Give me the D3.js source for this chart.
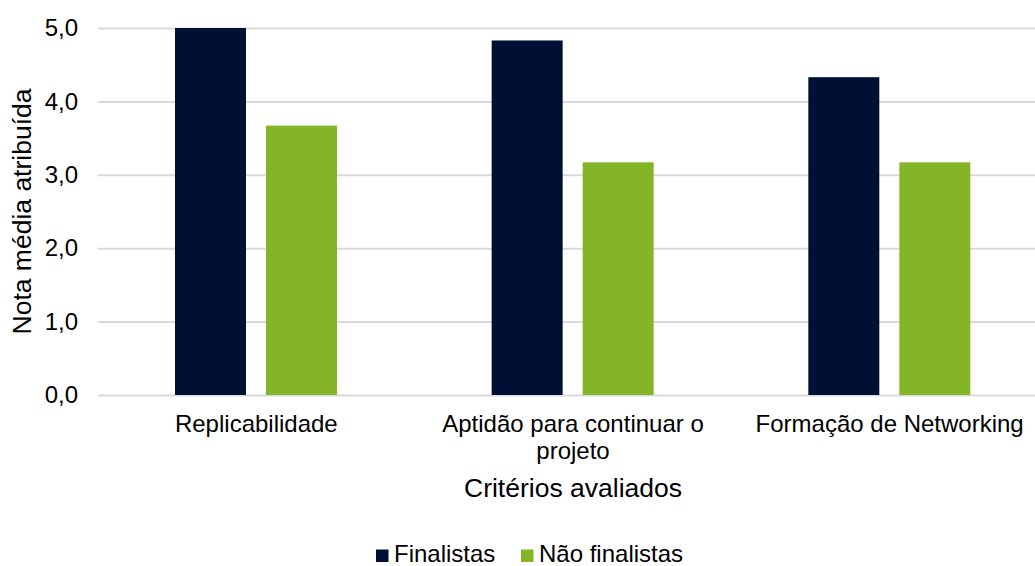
<!DOCTYPE html>
<html><head><meta charset="utf-8">
<script src="https://cdn.jsdelivr.net/npm/d3@7"></script>
<style>body{margin:0;background:#fff}svg{display:block;font-family:"Liberation Sans",Arial,sans-serif}</style>
</head><body><svg id="c" width="1035" height="566"></svg>
<script>
const categories = ["Replicabilidade", "Aptidão para continuar o projeto", "Formação de Networking"];
const seriesNames = ["Finalistas", "Não finalistas"];
const finalistas = [5.0, 4.83, 4.33];
const naoFinalistas = [3.67, 3.17, 3.17];
const yTicks = [0, 1, 2, 3, 4, 5];
const colors = ["#001035", "#84b527"];

(function () {
const FONT = "'Liberation Sans', Arial, sans-serif";
const svg = d3.select("#c");
const pLeft = 98, pRight = 1048, pTop = 28, pBottom = 395;
const seriesVals = [finalistas, naoFinalistas];

const x0 = d3.scaleBand().domain(categories).range([pLeft, pRight]).padding(0);
const x1 = d3.scaleBand().domain(seriesNames).range([77, 239]).paddingInner(0.22).paddingOuter(0);
const y = d3.scaleLinear().domain([0, 5]).range([pBottom, pTop]);

const yAxis = d3.axisLeft(y).tickValues(yTicks).tickSize(-(pRight - pLeft)).tickPadding(20)
  .tickFormat(d => d3.format(".1f")(d).replace(".", ","));
const gy = svg.append("g").attr("transform", `translate(${pLeft},0)`).call(yAxis);
gy.select(".domain").remove();
gy.selectAll(".tick line").attr("stroke", "#d9d9d9").attr("stroke-width", 2);
gy.selectAll(".tick text").attr("font-size", 24).attr("fill", "#000").attr("font-family", FONT);

const g = svg.append("g");
categories.forEach((c, i) => {
  seriesNames.forEach((s, j) => {
    g.append("rect")
      .attr("x", x0(c) + x1(s))
      .attr("y", y(seriesVals[j][i]))
      .attr("width", x1.bandwidth())
      .attr("height", y(0) - y(seriesVals[j][i]))
      .attr("fill", colors[j]);
  });
});

const xAxis = d3.axisBottom(x0).tickSize(0).tickPadding(0);
const gx = svg.append("g").attr("transform", `translate(0,${pBottom})`).call(xAxis);
gx.select(".domain").remove();
gx.selectAll(".tick text").remove();
gx.selectAll(".tick").each(function(d) {
  const t = d3.select(this).append("text").attr("text-anchor", "middle")
    .attr("font-size", 24).attr("fill", "#000").attr("font-family", FONT);
  const words = d.split(" ");
  const lines = [];
  let line = [];
  const tmp = t.append("tspan");
  words.forEach(w => {
    line.push(w);
    tmp.text(line.join(" "));
    if (tmp.node().getComputedTextLength() > 300 && line.length > 1) {
      line.pop(); lines.push(line.join(" ")); line = [w];
    }
  });
  lines.push(line.join(" "));
  tmp.remove();
  lines.forEach((l, k) => t.append("tspan").attr("x", 0).attr("y", 37 + k * 27).text(l));
});

svg.append("text").attr("x", 573).attr("y", 497).attr("font-family", FONT)
  .attr("text-anchor", "middle").attr("font-size", 26.5).text("Critérios avaliados");
svg.append("text").attr("transform", `translate(31,211.5) rotate(-90)`).attr("font-family", FONT)
  .attr("text-anchor", "middle").attr("font-size", 26.5).text("Nota média atribuída");

const legX = [376, 521];
const lg = svg.append("g");
seriesNames.forEach((s, j) => {
  lg.append("rect").attr("x", legX[j]).attr("y", 549.5).attr("width", 12.5).attr("height", 12.5).attr("fill", colors[j]);
  lg.append("text").attr("x", legX[j] + 18).attr("y", 562).attr("font-family", FONT).attr("font-size", 24).text(s);
});
})();
</script></body></html>
